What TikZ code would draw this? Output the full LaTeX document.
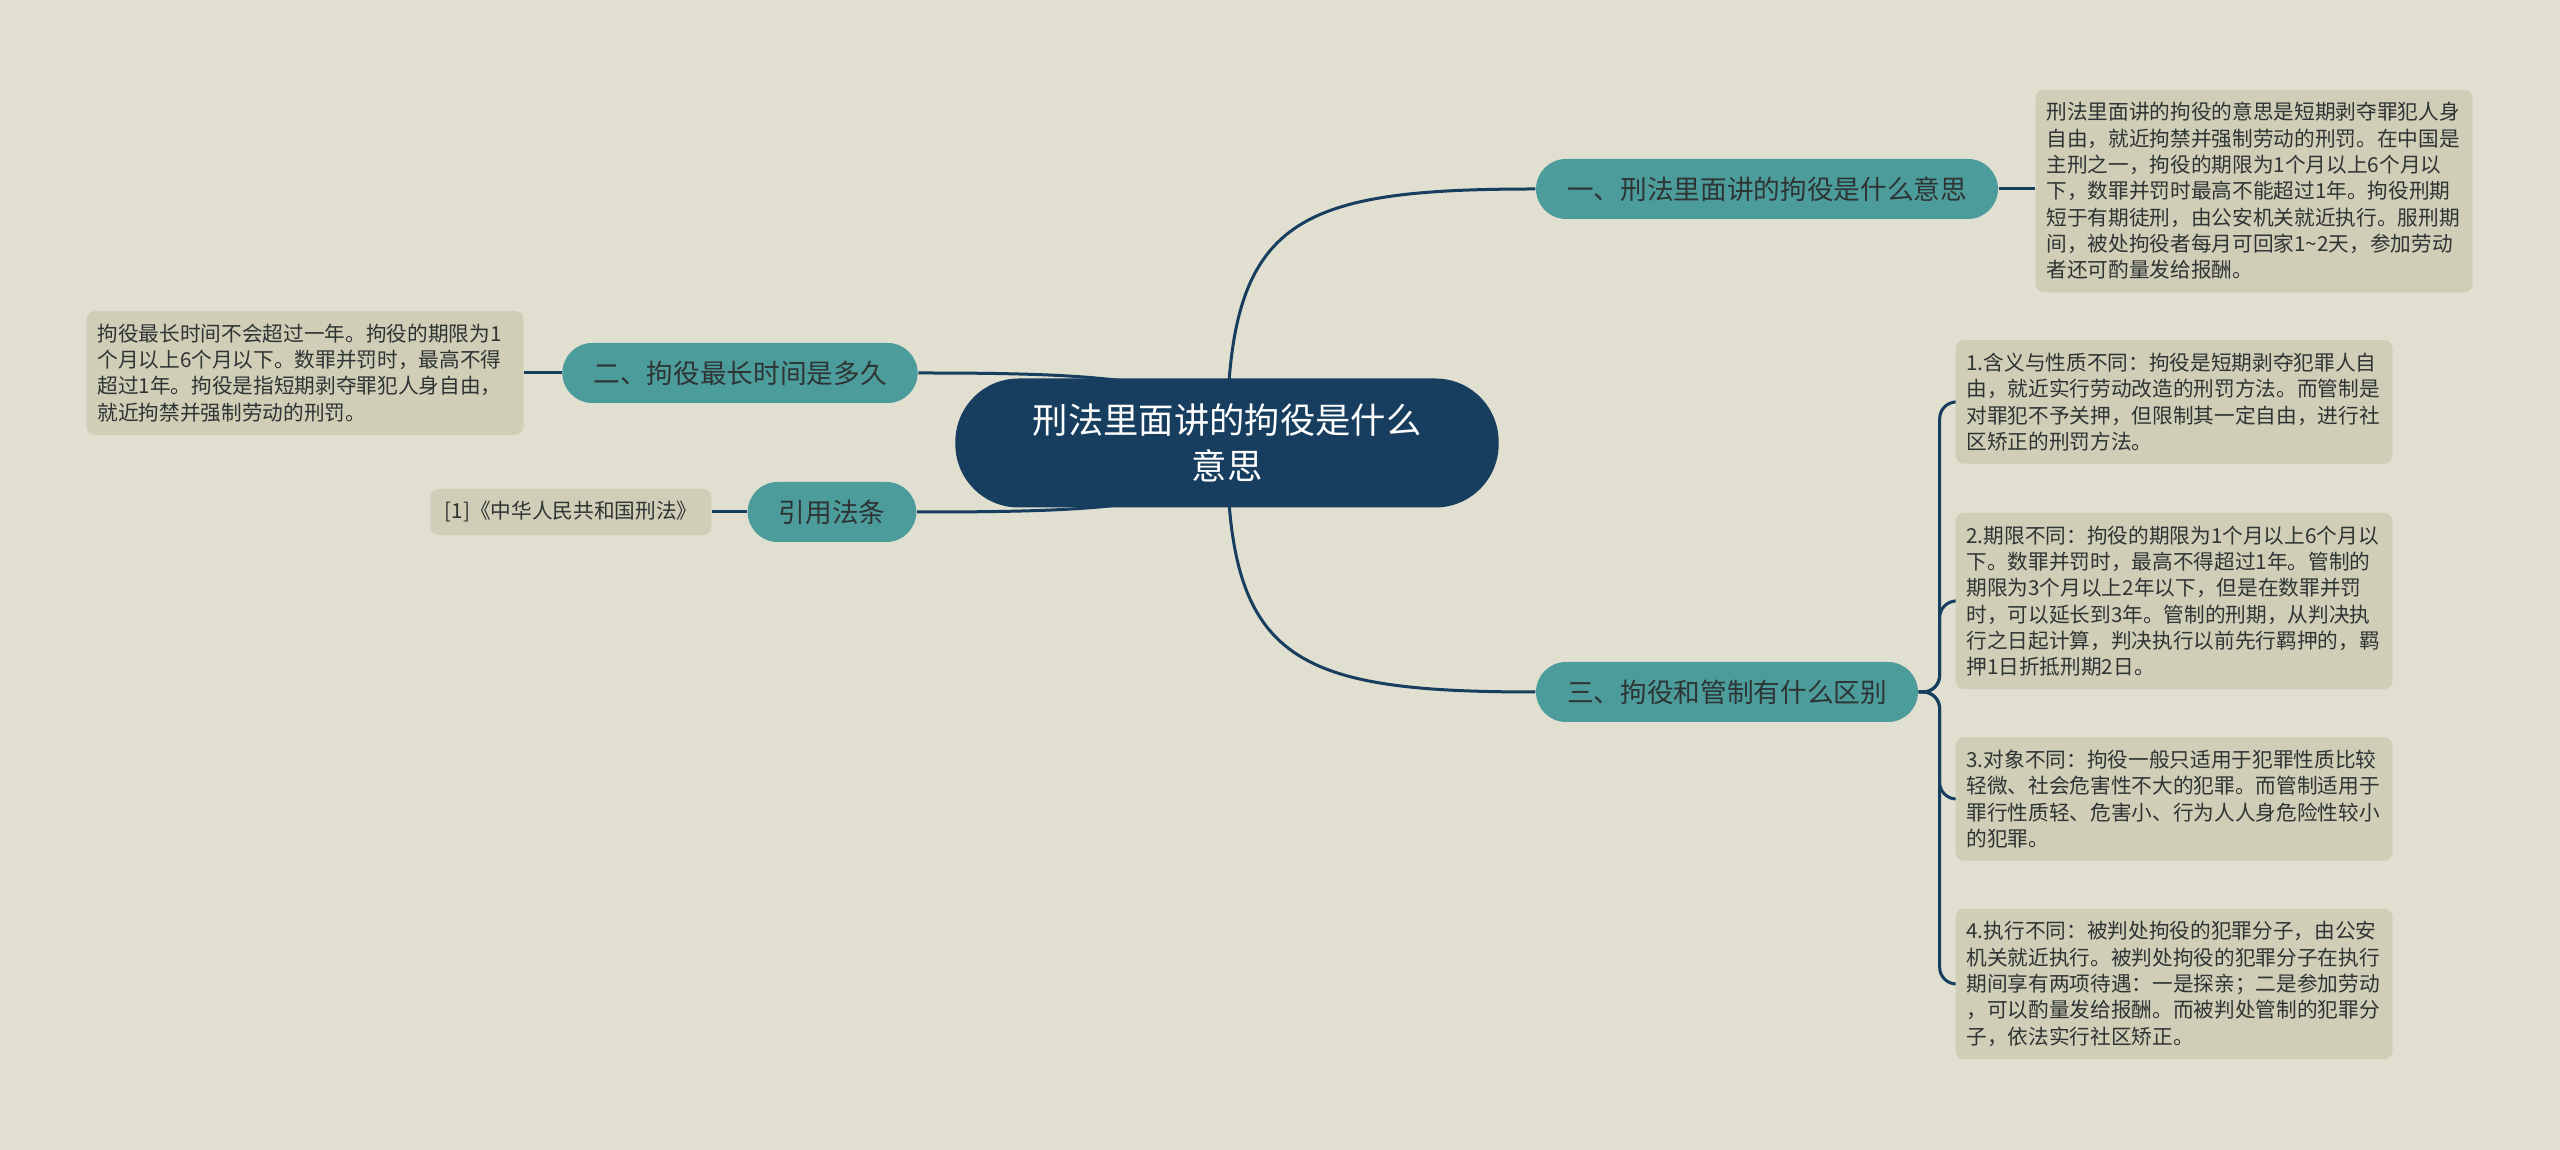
\documentclass[tikz,border=0pt]{standalone}
\usepackage{fontspec}
\setmainfont{Noto Sans CJK SC}
\usepackage{xcolor}
\usepackage{tikz}
\usetikzlibrary{backgrounds}

\definecolor{bgc}{HTML}{E0DFD0}
\definecolor{navy}{HTML}{173E5E}
\definecolor{tealc}{HTML}{4D9C9C}
\definecolor{leafc}{HTML}{D0CEB7}
\definecolor{inkc}{HTML}{2E3434}

\begin{document}
\begin{tikzpicture}[x=0.3pt,y=-0.3pt,
  rootbox/.style={rectangle,rounded corners=19pt,fill=navy,text=white,minimum width=163pt,minimum height=38.7pt,align=center,font=\fontsize{10.6}{14}\selectfont},
  topic/.style={rectangle,rounded corners=9pt,fill=tealc,text=inkc,minimum height=18pt,inner xsep=9.3pt,font=\fontsize{8}{10}\selectfont},
  leaf/.style={rectangle,rounded corners=2.5pt,fill=leafc,text=inkc,inner xsep=3.3pt,inner ysep=3.8pt,align=left,font=\fontsize{6.2}{7.9}\selectfont},
  wide/.style={text width=124.5pt},
  conn/.style={draw=navy,line width=0.9pt}]
\useasboundingbox (0,0) rectangle (2560,1150);

\node at (1227,443) [rootbox] (root) {刑法里面讲的拘役是什么\\意思};
\node at (1767,189) [topic] (t1) {一、刑法里面讲的拘役是什么意思};
\node at (740,373) [topic] (t2) {二、拘役最长时间是多久};
\node at (832,512) [topic] (t4) {引用法条};
\node at (1727,692) [topic] (t3) {三、拘役和管制有什么区别};

\node at (2254,191) [leaf,wide] (d1) {刑法里面讲的拘役的意思是短期剥夺罪犯人身\\自由，就近拘禁并强制劳动的刑罚。在中国是\\主刑之一，拘役的期限为1个月以上6个月以\\下，数罪并罚时最高不能超过1年。拘役刑期\\短于有期徒刑，由公安机关就近执行。服刑期\\间，被处拘役者每月可回家1\textasciitilde 2天，参加劳动\\者还可酌量发给报酬。};
\node at (305,373) [leaf,wide] (d2) {拘役最长时间不会超过一年。拘役的期限为1\\个月以上6个月以下。数罪并罚时，最高不得\\超过1年。拘役是指短期剥夺罪犯人身自由，\\就近拘禁并强制劳动的刑罚。};
\node at (571,512) [leaf,inner xsep=4.2pt] (ref) {[1]《中华人民共和国刑法》};
\node at (2174,402) [leaf,wide] (c1) {1.含义与性质不同：拘役是短期剥夺犯罪人自\\由，就近实行劳动改造的刑罚方法。而管制是\\对罪犯不予关押，但限制其一定自由，进行社\\区矫正的刑罚方法。};
\node at (2174,601) [leaf,wide] (c2) {2.期限不同：拘役的期限为1个月以上6个月以\\下。数罪并罚时，最高不得超过1年。管制的\\期限为3个月以上2年以下，但是在数罪并罚\\时，可以延长到3年。管制的刑期，从判决执\\行之日起计算，判决执行以前先行羁押的，羁\\押1日折抵刑期2日。};
\node at (2174,799) [leaf,wide] (c3) {3.对象不同：拘役一般只适用于犯罪性质比较\\轻微、社会危害性不大的犯罪。而管制适用于\\罪行性质轻、危害小、行为人人身危险性较小\\的犯罪。};
\node at (2174,984) [leaf,wide] (c4) {4.执行不同：被判处拘役的犯罪分子，由公安\\机关就近执行。被判处拘役的犯罪分子在执行\\期间享有两项待遇：一是探亲；二是参加劳动\\，可以酌量发给报酬。而被判处管制的犯罪分\\子，依法实行社区矫正。};

\begin{scope}[on background layer]
\fill[bgc] (0,0) rectangle (2560,1150);
\draw[conn] (root.center) .. controls (1227,220) and (1290,189) .. (t1.west);
\draw[conn] (root.center) .. controls (1227,660) and (1290,692) .. (t3.west);
\draw[conn] (root.center) .. controls (1227,378) and (1100,373) .. (t2.east);
\draw[conn] (root.center) .. controls (1227,508) and (1100,512) .. (t4.east);
\draw[conn] (t1.east) -- (t1.east -| d1.west);
\draw[conn] (t2.west) -- (t2.west -| d2.east);
\draw[conn] (t4.west) -- (t4.west -| ref.east);
\foreach \c in {c1,c2,c3,c4}
  \draw[conn,rounded corners=5pt] (t3.east) -- ++(21,0) |- (\c.west);
\end{scope}
\end{tikzpicture}
\end{document}
